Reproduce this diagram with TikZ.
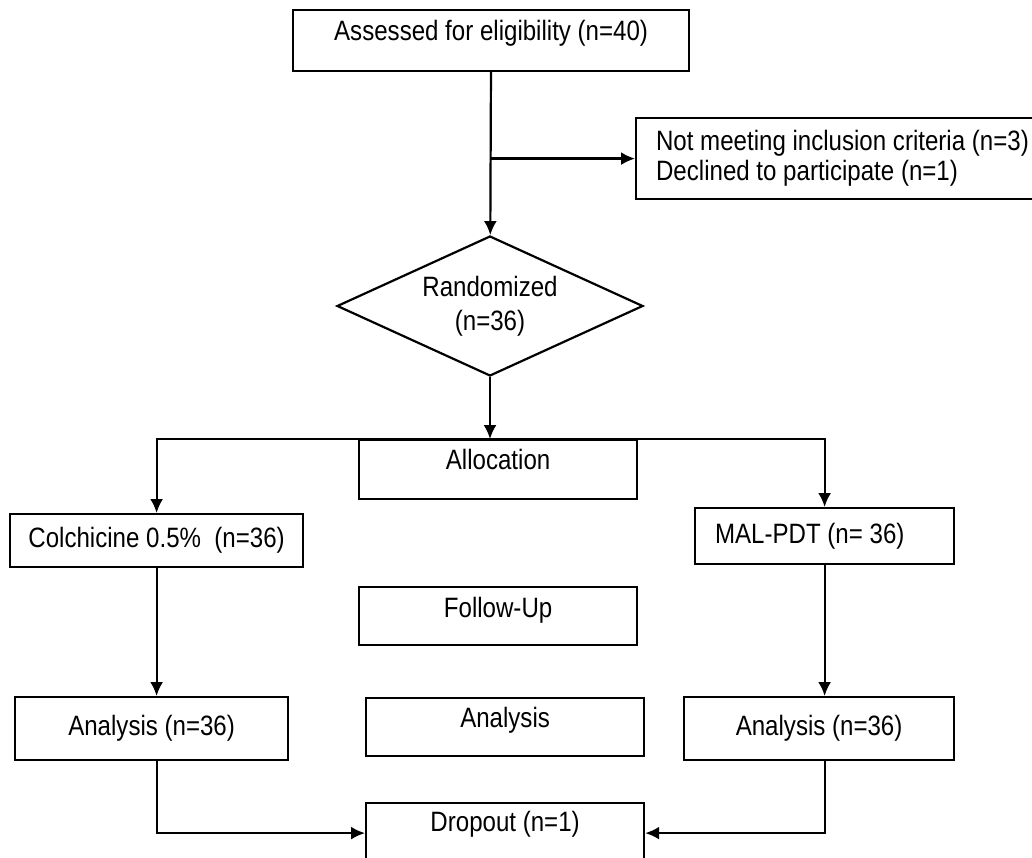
\documentclass[tikz,border=0pt]{standalone}
\usepackage{fontspec}
\setmainfont{Liberation Sans}[FakeStretch=0.86]
\usepackage{tikz}
\usetikzlibrary{shapes.geometric}
\usetikzlibrary{arrows.meta}
\tikzset{
	stage/.style = {rectangle, draw, inner ysep=0pt, anchor=north west},
	sidebox/.style = {stage, align=flush left, inner xsep=20pt},
	decision/.style = {diamond, draw, aspect=2.2, inner sep=0pt, align=center,
		minimum width=306pt, minimum height=140pt}}

\begin{document}
\begin{tikzpicture}[-{Latex[length=14pt,width=13pt]} ,x=1pt ,y=-1pt ,
	line width=2.2pt ,
	every node/.style={font=\fontsize{28}{30}\selectfont}
	]
	\useasboundingbox (0,0) rectangle (1032,858);
	\node (E) [stage, minimum width=396pt, text height=30pt, text depth=31pt] at (292,9) {Assessed for eligibility (n=40)};
	\node (N) [sidebox, text width=420pt, minimum height=81pt] at (635,117) {Not meeting inclusion criteria (n=3)\\Declined to participate (n=1)};
	\node (R) [decision] at (490,306) {Randomized\\[4pt](n=36)};
	\node (L) [stage, minimum width=278pt, text height=29pt, text depth=30pt] at (358,439) {Allocation};
	\node (C) [stage, minimum width=293pt, minimum height=53pt] at (9,513) {Colchicine 0.5\%\ \ (n=36)};
	\node (M) [sidebox, text width=219pt, minimum height=56pt] at (694,507) {MAL-PDT (n= 36)};
	\node (F) [stage, minimum width=278pt, text height=30pt, text depth=28pt] at (358,586) {Follow-Up};
	\node (AC) [stage, minimum width=273pt, minimum height=63pt] at (14,696) {Analysis (n=36)};
	\node (AX) [stage, minimum width=278pt, text height=29pt, text depth=29pt] at (365,697) {Analysis};
	\node (AM) [stage, minimum width=270pt, minimum height=63pt] at (683,696) {Analysis (n=36)};
	\node (D) [stage, minimum width=278pt, text height=28pt, text depth=32pt] at (365,802) {Dropout (n=1)};
	\draw (E) -- (R);
	\draw (N.west -| E.south) -- (N.west);
	\draw (R.south) -- (R.south |- L.north);
	\draw (L.north) -| (C.north);
	\draw (L.north) -| (M.north);
	\draw (C.south) -- (C.south |- AC.north);
	\draw (M.south) -- (M.south |- AM.north);
	\draw ([xshift=5pt]AC.south) |- (D.west);
	\draw ([xshift=6pt]AM.south) |- (D.east);
\end{tikzpicture}
\end{document}
